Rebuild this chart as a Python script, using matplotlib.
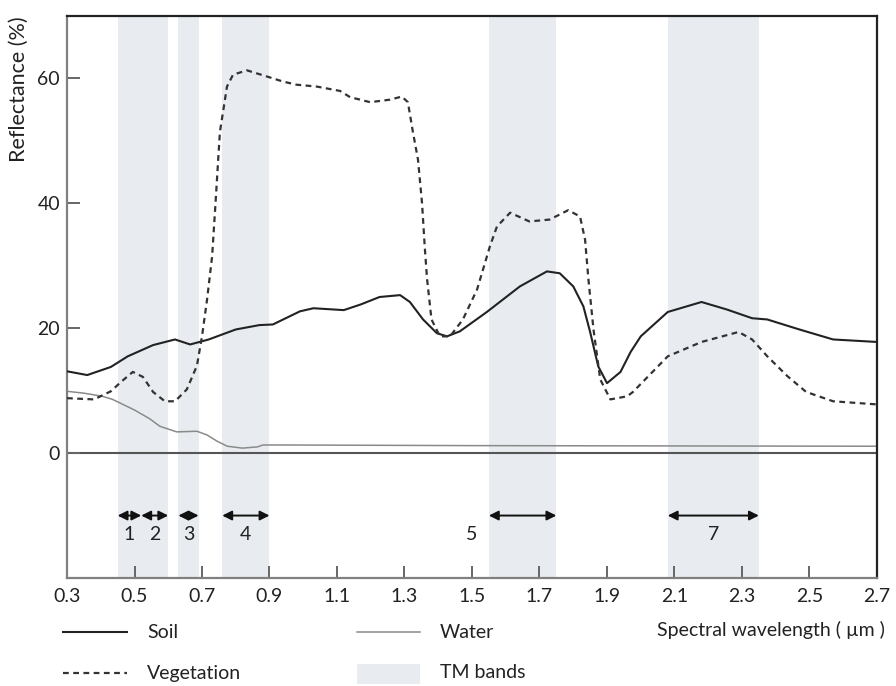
import matplotlib
matplotlib.use("Agg")
import matplotlib.pyplot as plt
from matplotlib.lines import Line2D
from matplotlib.patches import Rectangle

plt.rcParams['font.family'] = ['Lato', 'DejaVu Sans']

# ---------------- data ----------------
soil_x = [0.30, 0.36, 0.43, 0.48, 0.555, 0.62, 0.665, 0.72, 0.80, 0.87, 0.91, 0.99,
          1.03, 1.12, 1.17, 1.226, 1.287, 1.316, 1.355, 1.396, 1.426, 1.464, 1.544,
          1.642, 1.722, 1.76, 1.80, 1.83, 1.85, 1.874, 1.90, 1.94, 1.97, 2.00, 2.08,
          2.18, 2.255, 2.33, 2.375, 2.47, 2.57, 2.70]
soil_y = [13.1, 12.5, 13.8, 15.5, 17.3, 18.2, 17.4, 18.2, 19.8, 20.5, 20.6, 22.7,
          23.2, 22.9, 23.8, 25.0, 25.3, 24.2, 21.4, 19.2, 18.7, 19.5, 22.6,
          26.7, 29.1, 28.8, 26.7, 23.5, 19.4, 13.9, 11.2, 13.0, 16.2, 18.7, 22.6,
          24.2, 23.0, 21.6, 21.4, 19.8, 18.2, 17.8]

veg_x = [0.30, 0.38, 0.43, 0.46, 0.495, 0.525, 0.555, 0.59, 0.62, 0.655, 0.685, 0.70,
         0.715, 0.73, 0.74, 0.753, 0.774, 0.792, 0.833, 0.893, 0.94, 0.98, 1.04,
         1.109, 1.139, 1.198, 1.257, 1.292, 1.31, 1.325, 1.34, 1.352, 1.36, 1.367,
         1.38, 1.405, 1.435, 1.473, 1.515, 1.553, 1.574, 1.613, 1.67, 1.73, 1.785,
         1.82, 1.835, 1.845, 1.86, 1.88, 1.91, 1.96, 1.977, 2.08, 2.18, 2.29, 2.33,
         2.375, 2.435, 2.49, 2.57, 2.70]
veg_y = [8.8, 8.6, 9.9, 11.4, 13.0, 12.2, 9.8, 8.3, 8.3, 10.2, 14.0, 18.7,
         24.6, 31.5, 40.0, 51.4, 58.7, 60.6, 61.3, 60.3, 59.5, 59.0, 58.7,
         58.0, 57.0, 56.2, 56.6, 57.1, 56.2, 51.4, 47.0, 40.0, 33.0, 27.8,
         21.4, 18.7, 18.7, 21.4, 26.2, 33.1, 36.3, 38.5, 37.1, 37.4, 38.9,
         37.9, 34.2, 27.8, 19.8, 11.8, 8.6, 9.1, 9.8, 15.5, 17.8, 19.4, 18.2,
         15.5, 12.3, 9.8, 8.3, 7.8]

water_x = [0.30, 0.35, 0.405, 0.435, 0.50, 0.545, 0.575, 0.625, 0.685, 0.715, 0.745,
           0.775, 0.82, 0.865, 0.88, 0.95, 1.5, 2.7]
water_y = [9.9, 9.6, 9.1, 8.6, 6.9, 5.5, 4.3, 3.4, 3.5, 2.9, 1.9,
           1.1, 0.8, 1.0, 1.3, 1.3, 1.2, 1.1]

# Landsat TM bands (µm)
band_names = ['1', '2', '3', '4', '5', '7']
band_lo = [0.45, 0.52, 0.63, 0.76, 1.55, 2.08]
band_hi = [0.52, 0.60, 0.69, 0.90, 1.75, 2.35]

x_ticks = [0.3, 0.5, 0.7, 0.9, 1.1, 1.3, 1.5, 1.7, 1.9, 2.1, 2.3, 2.5, 2.7]
y_ticks = [0, 20, 40, 60]

W, H = 896, 686
fig = plt.figure(figsize=(W / 100, H / 100), dpi=100)
ax = fig.add_axes([67 / W, 1 - 578 / H, (877 - 67) / W, (578 - 16) / H])

shade = '#e8ecf0'
for lo, hi in zip(band_lo, band_hi):
    ax.axvspan(lo, hi, color=shade, lw=0, zorder=0)

ax.axhline(0, color='#555555', lw=1.5, zorder=1)

ax.plot(water_x, water_y, color='#8a8a8a', lw=1.1, zorder=2)
ax.plot(soil_x, soil_y, color='#222222', lw=1.5, zorder=3)
ax.plot(veg_x, veg_y, color='#333333', lw=1.6, ls=(0, (2.6, 2)), zorder=3)

# band arrows and numbers
for name, lo, hi in zip(band_names, band_lo, band_hi):
    ax.annotate('', xy=(lo, -10), xytext=(hi, -10),
                arrowprops=dict(arrowstyle='<|-|>', color='#111111', lw=1.4,
                                mutation_scale=14, shrinkA=0, shrinkB=0))
    lx = (lo + hi) / 2 if name != '5' else lo - 0.05
    ax.text(lx, -13, name, ha='center', va='center', fontsize=14, color='#222222')

ax.set_xlim(0.3, 2.7)
ax.set_ylim(-20, 70)
ax.set_xticks(x_ticks)
ax.set_xticklabels([f'{t:.1f}' for t in x_ticks])
ax.set_yticks(y_ticks)
ax.tick_params(direction='in', length=9, width=1.4, color='#666666',
               labelsize=14, labelcolor='#222222')
ax.tick_params(axis='x', pad=7)
ax.tick_params(axis='y', pad=5)

for side in ['left', 'bottom']:
    ax.spines[side].set_color('#808080')
    ax.spines[side].set_linewidth(1.6)
for side in ['top', 'right']:
    ax.spines[side].set_color('#222222')
    ax.spines[side].set_linewidth(1.6)

ax.set_ylabel('Reflectance (%)', loc='top', fontsize=15.5, color='#222222', labelpad=6)

fig.text(885 / W, 1 - 630 / H, 'Spectral wavelength ( µm )', ha='right', va='center',
         fontsize=14, color='#222222')

# legend drawn under the axes
def fx(px):
    return px / W

def fy(py):
    return 1 - py / H

fig.add_artist(Line2D([fx(63), fx(127)], [fy(632), fy(632)], color='#222222', lw=1.5))
fig.add_artist(Line2D([fx(63), fx(127)], [fy(673), fy(673)], color='#333333', lw=1.6,
                      ls=(0, (2.6, 2))))
fig.add_artist(Line2D([fx(357), fx(420)], [fy(632), fy(632)], color='#8a8a8a', lw=1.1))
fig.add_artist(Rectangle((fx(357), fy(684)), fx(420) - fx(357), fy(664) - fy(684),
                         transform=fig.transFigure, color=shade, lw=0))
for px, py, s in [(147, 632, 'Soil'), (147, 673, 'Vegetation'),
                  (440, 632, 'Water'), (440, 673, 'TM bands')]:
    fig.text(fx(px), fy(py), s, ha='left', va='center', fontsize=14, color='#222222')

fig.savefig('out.png', dpi=100)
